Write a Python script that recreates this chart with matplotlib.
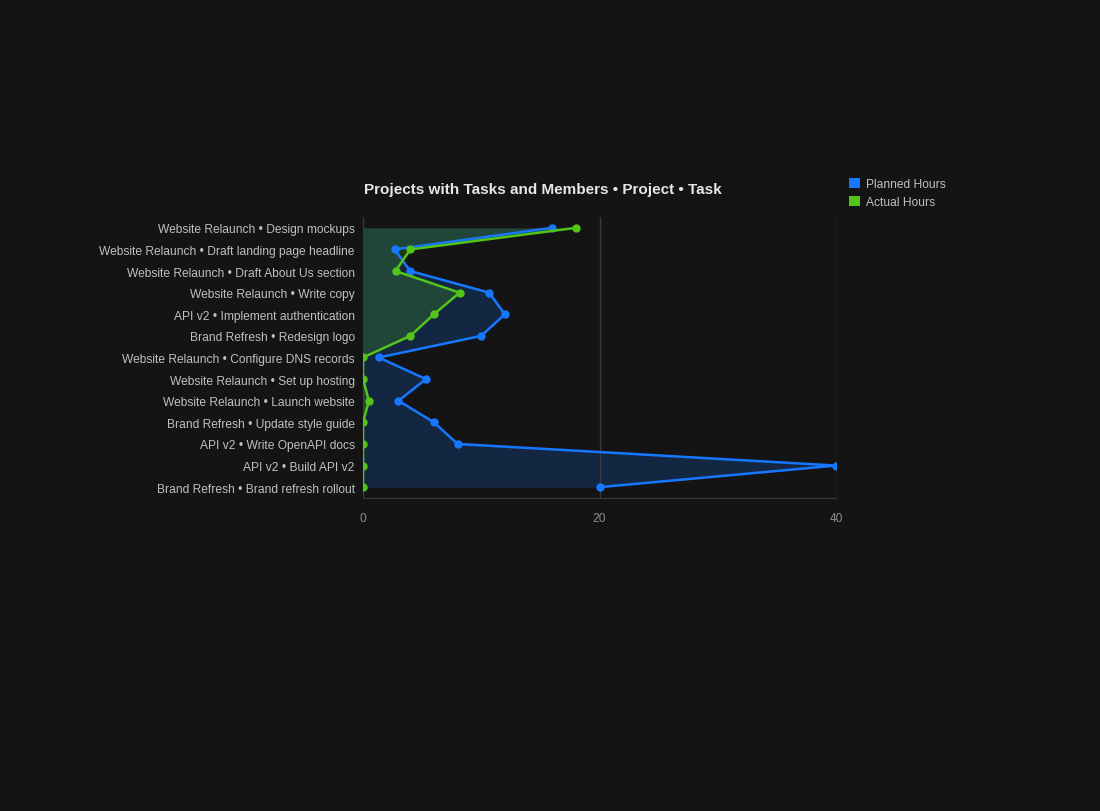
import numpy as np
import matplotlib.pyplot as plt
from matplotlib.patches import Patch

plt.rcParams['font.family'] = ['Liberation Sans', 'DejaVu Sans']

tasks = [
    "Website Relaunch • Design mockups",
    "Website Relaunch • Draft landing page headline",
    "Website Relaunch • Draft About Us section",
    "Website Relaunch • Write copy",
    "API v2 • Implement authentication",
    "Brand Refresh • Redesign logo",
    "Website Relaunch • Configure DNS records",
    "Website Relaunch • Set up hosting",
    "Website Relaunch • Launch website",
    "Brand Refresh • Update style guide",
    "API v2 • Write OpenAPI docs",
    "API v2 • Build API v2",
    "Brand Refresh • Brand refresh rollout",
]
planned = [16, 2.67, 4, 10.67, 12, 10, 1.33, 5.33, 3, 6, 8, 40, 20]
actual = [18, 4, 2.75, 8.17, 6, 4, 0, 0, 0.5, 0, 0, 0, 0]

bg = "#141414"
blue = "#1677ff"
green = "#52c41a"

fig = plt.figure(figsize=(11, 8.12), dpi=100, facecolor=bg)
ax = fig.add_axes([0.33, 0.3855, 0.43, 0.346])
ax.set_facecolor(bg)

y = np.arange(len(tasks))
ax.fill_betweenx(y, 0, planned, color=blue, alpha=0.2, lw=0, zorder=1)
ax.fill_betweenx(y, 0, actual, color=green, alpha=0.2, lw=0, zorder=2)
ax.plot(planned, y, color=blue, lw=1.8, marker="o", ms=5, zorder=4)
ax.plot(actual, y, color=green, lw=1.8, marker="o", ms=5, zorder=5)

ax.set_ylim(len(tasks) - 0.5, -0.5)
ax.set_xlim(0, 40)
ax.set_xticks([0, 20, 40])
ax.set_yticks(y)
ax.set_yticklabels(tasks)
ax.tick_params(axis="y", length=0, pad=6, labelsize=8.65, labelcolor="#bfbfbf")
ax.tick_params(axis="x", length=0, pad=10, labelsize=8.65, labelcolor="#8c8c8c")
ax.grid(axis="x", color="#3a3a3a", lw=1, zorder=0)
for s in ["top", "right"]:
    ax.spines[s].set_visible(False)
for s in ["left", "bottom"]:
    ax.spines[s].set_color("#3a3a3a")

fig.text(543 / 1100, 1 - 190 / 812, "Projects with Tasks and Members • Project • Task",
         ha="center", va="center", color="#e6e6e6", fontsize=11, fontweight="bold")

handles = [Patch(facecolor=blue, label="Planned Hours"),
           Patch(facecolor=green, label="Actual Hours")]
leg = fig.legend(handles=handles, loc="upper left", bbox_to_anchor=(838 / 1100, 1 - 168 / 812),
                 frameon=False, fontsize=8.65, handlelength=0.9, handleheight=0.9,
                 handletextpad=0.5, labelspacing=0.5)
for t in leg.get_texts():
    t.set_color("#bfbfbf")

fig.savefig("out.png", dpi=100, facecolor=bg)
